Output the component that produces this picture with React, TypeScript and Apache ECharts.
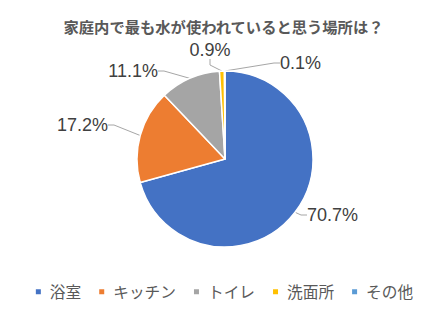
import React, { useEffect, useRef } from "react";
import * as echarts from "echarts";

const titleText = "家庭内で最も水が使われていると思う場所は？";
const categories = ["浴室", "キッチン", "トイレ", "洗面所", "その他"];
const values = [70.7, 17.2, 11.1, 0.9, 0.1];
const colors = ["#4472C4", "#ED7D31", "#A5A5A5", "#FFC000", "#5B9BD5"];

const FONT = "'Noto Sans CJK JP', 'Noto Sans', sans-serif";

export default function App() {
  const ref = useRef<HTMLDivElement>(null);
  useEffect(() => {
    if (!ref.current) return;
    const chart = echarts.init(ref.current, undefined, { renderer: "svg" });
    const labelPos: Record<number, [number, number, string]> = {
      0: [307, 215, "left"],
      1: [108, 125, "right"],
      2: [158, 71, "right"],
      3: [210, 50, "center"],
      4: [280, 63, "left"],
    };
    chart.setOption({
      animation: false,
      backgroundColor: "#ffffff",
      title: {
        text: titleText,
        left: "center",
        top: 13,
        textStyle: { fontFamily: FONT, fontSize: 15.3, fontWeight: "bold", color: "#595959" },
      },
      legend: {
        top: 279,
        left: "center",
        itemWidth: 7,
        itemHeight: 7,
        itemGap: 16,
        icon: "rect",
        textStyle: { fontFamily: FONT, fontSize: 15.7, color: "#595959", padding: [0, 0, 0, 3] },
        data: categories,
      },
      graphic: [
        {
          type: "rect",
          shape: { x: 0.5, y: 0.5, width: 445, height: 313, r: 3 },
          style: { fill: "none", stroke: "#D9D9D9", lineWidth: 1 },
          silent: true,
        },
      ],
      series: [
        {
          type: "pie",
          center: [225, 159],
          radius: [0, 88],
          startAngle: 90,
          clockwise: true,
          itemStyle: { borderColor: "#ffffff", borderWidth: 1.5 },
          label: {
            show: true,
            position: "outside",
            formatter: (p: any) => p.value.toFixed(1) + "%",
            fontFamily: "'Liberation Sans', 'DejaVu Sans', sans-serif",
            fontSize: 18,
            color: "#404040",
          },
          labelLine: { show: true, lineStyle: { color: "#A6A6A6", width: 1 }, length: 6, length2: 6 },
          labelLayout: (params: any) => {
            const p = labelPos[params.dataIndex];
            return {
              x: p[0],
              y: p[1],
              align: p[2],
              verticalAlign: "middle",
            };
          },
          data: categories.map((c, i) => ({
            name: c,
            value: values[i],
            itemStyle: { color: colors[i] },
          })),
        },
      ],
    });
    return () => chart.dispose();
  }, []);
  return <div ref={ref} style={{ width: 447, height: 315, margin: -8 }} />;
}
